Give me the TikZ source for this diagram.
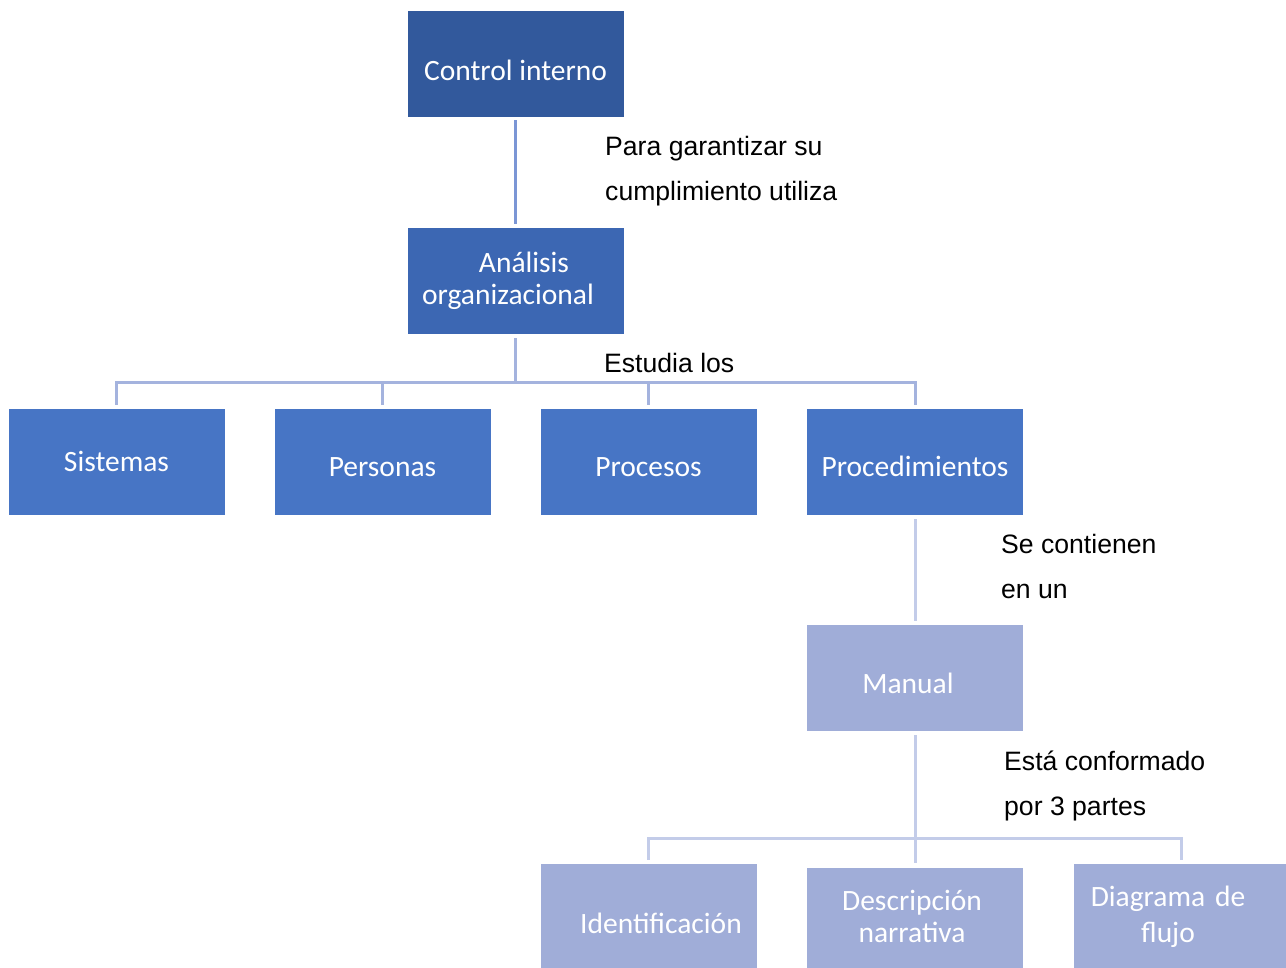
\documentclass[tikz,border=0pt]{standalone}
\usepackage{fontspec}
\setmainfont{Liberation Sans}
\newfontfamily\boxfont{Carlito}
\definecolor{cDark}{HTML}{32599C}
\definecolor{cMid}{HTML}{3C67B3}
\definecolor{cBlue}{HTML}{4775C5}
\definecolor{cLight}{HTML}{A0ADD8}
\definecolor{cTop}{HTML}{7B96D5}
\definecolor{cLine}{HTML}{A4B3DE}
\definecolor{cLineL}{HTML}{C3CCE9}
\newcommand{\boxtxt}[2]{\smash{\raisebox{-#1pt}{#2}}}
\tikzset{
  box/.style={rectangle, minimum width=217pt, minimum height=107pt, inner sep=0pt,
    text=white, font=\boxfont\fontsize{29.5}{32}\selectfont, draw=white, line width=0.6pt},
  conn/.style={draw=cLine, line width=3pt},
  conntop/.style={draw=cTop, line width=3pt},
  connl/.style={draw=cLineL, line width=3pt},
  lbl/.style={anchor=base west, align=left, inner sep=0pt, font=\fontsize{26.6}{45}\selectfont}
}
\begin{document}
\begin{tikzpicture}[x=1pt,y=-1pt]
\useasboundingbox (0,0) rectangle (1286,968);
% boxes
\node[box, fill=cDark] (ci) at (515.5,63.5) {\boxtxt{16.8}{Control interno}};
\node[box, fill=cMid, text width=217pt, align=center] (ao) at (515.5,280.5)
  {\hspace*{17pt}Análisis\\\hspace*{-15pt}organizacional};
\node[box, fill=cBlue] (sis) at (116.5,461.5) {\boxtxt{9.8}{Sistemas}};
\node[box, fill=cBlue] (per) at (382.5,461.5) {\boxtxt{15.3}{Personas}};
\node[box, fill=cBlue] (pcs) at (648.5,461.5) {\boxtxt{15.3}{Procesos}};
\node[box, fill=cBlue] (pmt) at (915,461.5) {\boxtxt{15.3}{Procedimientos}};
\node[box, fill=cLight] (man) at (915,677.5) {\hspace*{-14pt}\boxtxt{15.8}{Manual}};
\node[box, fill=cLight] (id) at (648.5,916.5) {\hspace*{25pt}\boxtxt{17.3}{Identificación}};
\node[box, fill=cLight, text width=217pt, align=center] (des) at (915,920.5)
  {\hspace*{-6pt}Descripción\\\hspace*{-6pt}narrativa\rule[-8pt]{0pt}{8pt}};
\node[box, fill=cLight, text width=217pt, align=center] (dia) at (1181.5,916.5)
  {\hspace*{-27pt}Diagrama de\\[4pt]\hspace*{-27pt}flujo};
% connectors
\draw[conntop, shorten <=3pt, shorten >=3pt] (ci) -- (ao);
\coordinate (bar1) at (515.5,383);
\foreach \c in {sis,per,pcs,pmt}
  \draw[conn, shorten <=4pt, shorten >=3pt] (ao.south) -- (ao.south |- bar1) -| (\c.north);
\draw[connl, shorten <=4pt, shorten >=3pt] (pmt) -- (man);
\coordinate (bar2) at (915,838);
\foreach \c in {id,dia}
  \draw[connl, shorten <=4pt, shorten >=3pt] (man.south) -- (man.south |- bar2) -| (\c.north);
\draw[connl, shorten <=4pt, shorten >=4pt] (man) -- (des);
% labels
\node[lbl] (l1) at (605,201) {Para garantizar su\\cumplimiento utiliza};
\node[lbl] (l2) at (604,373) {Estudia los};
\node[lbl] (l3) at (1001,598) {Se contienen\\en un};
\node[lbl] (l4) at (1004,815) {Está conformado\\por 3 partes};
\end{tikzpicture}
\end{document}
